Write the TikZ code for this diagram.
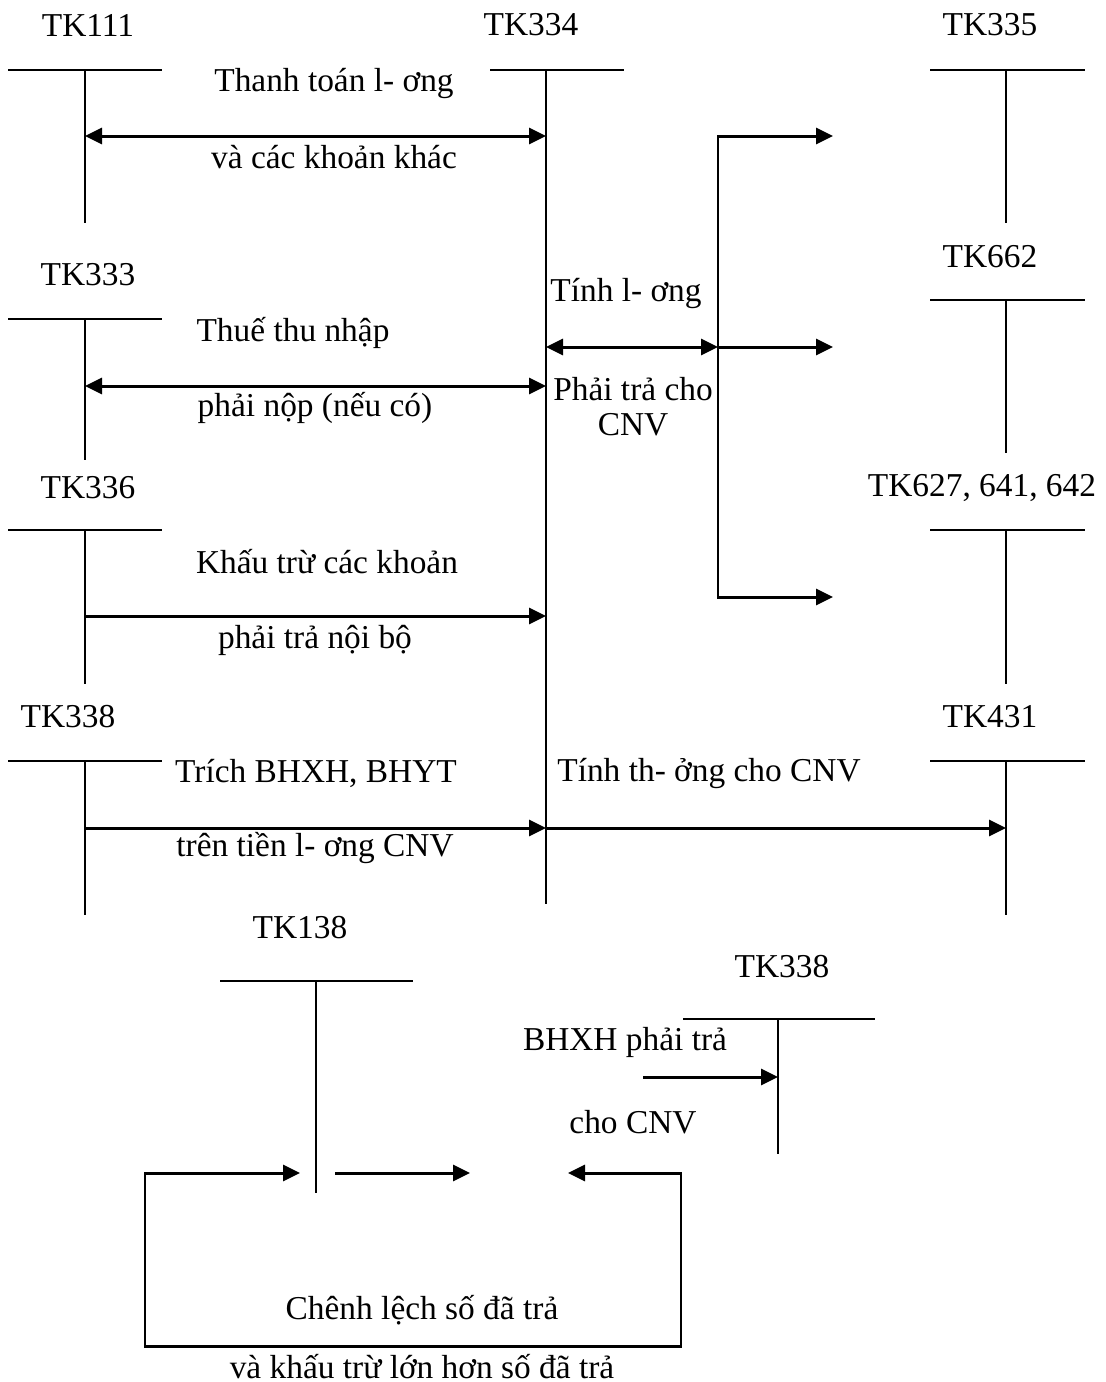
\documentclass[tikz,border=0pt]{standalone}
\usepackage{fontspec}
\setmainfont{Liberation Serif}
\usetikzlibrary{arrows.meta}
\begin{document}
\begin{tikzpicture}[>={Triangle[length=1.7mm, width=1.6mm]},
    acc/.style={line width=0.45pt},
    flow/.style={line width=0.85pt},
    lbl/.style={font=\fontsize{9.5}{10}\selectfont, inner sep=0pt}]
    \useasboundingbox (0,0) rectangle (11.05,-13.82);

    \begin{scope}[every node/.style={lbl}]
        \node (tk111) at (0.88,-0.25) {TK111};
        \node (tk334) at (5.31,-0.25) {TK334};
        \node (tk335) at (9.90,-0.25) {TK335};
        \node (tk333) at (0.88,-2.75) {TK333};
        \node (tk662) at (9.90,-2.57) {TK662};
        \node (tk336) at (0.88,-4.88) {TK336};
        \node (tk627) at (9.82,-4.88) {TK627, 641, 642};
        \node (tk338) at (0.68,-7.17) {TK338};
        \node (tk431) at (9.90,-7.17) {TK431};
        \node (tk138) at (3.00,-9.28) {TK138};
        \node (tk338b) at (7.82,-9.67) {TK338};
    \end{scope}

    \begin{scope}[acc]
        \draw (0.08,-0.70) -- (1.62,-0.70) (0.85,-0.70) -- (0.85,-2.23);
        \draw (4.90,-0.70) -- (6.24,-0.70) (5.46,-0.70) -- (5.46,-9.04);
        \draw (9.30,-0.70) -- (10.85,-0.70) (10.06,-0.70) -- (10.06,-2.23);
        \draw (0.08,-3.19) -- (1.62,-3.19) (0.85,-3.19) -- (0.85,-4.60);
        \draw (9.30,-3.00) -- (10.85,-3.00) (10.06,-3.00) -- (10.06,-4.53);
        \draw (0.08,-5.30) -- (1.62,-5.30) (0.85,-5.30) -- (0.85,-6.84);
        \draw (9.30,-5.30) -- (10.85,-5.30) (10.06,-5.30) -- (10.06,-6.84);
        \draw (0.08,-7.61) -- (1.62,-7.61) (0.85,-7.61) -- (0.85,-9.15);
        \draw (9.30,-7.61) -- (10.85,-7.61) (10.06,-7.61) -- (10.06,-9.15);
        \draw (2.20,-9.81) -- (4.13,-9.81) (3.16,-9.81) -- (3.16,-11.93);
        \draw (6.83,-10.19) -- (8.75,-10.19) (7.78,-10.19) -- (7.78,-11.54);
    \end{scope}

    \coordinate (p111) at (0.85,-1.36);
    \coordinate (q111) at (5.46,-1.36);
    \coordinate (p333) at (0.85,-3.86);
    \coordinate (q333) at (5.46,-3.86);
    \coordinate (p336) at (0.85,-6.16);
    \coordinate (q336) at (5.46,-6.16);
    \coordinate (p338) at (0.85,-8.28);
    \coordinate (q338) at (5.46,-8.28);
    \coordinate (r431) at (10.06,-8.28);
    \coordinate (q334) at (5.46,-3.47);
    \coordinate (k) at (7.18,-3.47);
    \coordinate (e335) at (8.33,-1.36);
    \coordinate (e662) at (8.33,-3.47);
    \coordinate (e627) at (8.33,-5.97);
    \coordinate (b1) at (3.00,-11.73);
    \coordinate (b2) at (3.35,-11.73);
    \coordinate (b3) at (4.70,-11.73);
    \coordinate (b4) at (5.68,-11.73);
    \coordinate (c1) at (6.81,-11.73);
    \coordinate (c2) at (6.81,-13.46);
    \coordinate (c3) at (1.45,-13.46);
    \coordinate (c4) at (1.45,-11.73);
    \coordinate (h1) at (6.43,-10.77);
    \coordinate (h2) at (7.78,-10.77);

    \begin{scope}[flow]
        \draw [<->] (p111) -- (q111);
        \draw [<->] (p333) -- (q333);
        \draw [->] (p336) -- (q336);
        \draw [->] (p338) -- (q338);
        \draw [->] (q338) -- (r431);
        \draw [<->] (q334) -- (k);
        \draw [->] (k) |- (e335);
        \draw [->] (k) -- (e662);
        \draw [->] (k) |- (e627);
        \draw [->] (h1) -- (h2);
        \draw [->] (b2) -- (b3);
        \draw [<->] (b4) -- (c1) -- (c2) -- (c3) -- (c4) -- (b1);
    \end{scope}

    \begin{scope}[every node/.style={lbl}]
        \node (t1a) at (3.34,-0.83) {Thanh toán l- ơng};
        \node (t1b) at (3.34,-1.57) {và các khoản khác};
        \node (t2a) at (2.93,-3.33) {Thuế thu nhập};
        \node (t2b) at (3.15,-4.08) {phải nộp (nếu có)};
        \node (t3a) at (6.26,-2.93) {Tính l- ơng};
        \node [align=center] (t3b) at (6.33,-4.07) {Phải trả cho\\CNV};
        \node (t4a) at (3.27,-5.62) {Khấu trừ các khoản};
        \node (t4b) at (3.15,-6.40) {phải trả nội bộ};
        \node (t5a) at (3.16,-7.73) {Trích BHXH, BHYT};
        \node (t5b) at (3.15,-8.48) {trên tiền l- ơng CNV};
        \node (t6a) at (7.09,-7.73) {Tính th- ởng cho CNV};
        \node (t7a) at (6.25,-10.42) {BHXH phải trả};
        \node (t7b) at (6.33,-11.22) {cho CNV};
        \node (t8a) at (4.22,-13.10) {Chênh lệch số đã trả};
        \node (t8b) at (4.22,-13.67) {và khấu trừ lớn hơn số đã trả};
    \end{scope}
\end{tikzpicture}
\end{document}
